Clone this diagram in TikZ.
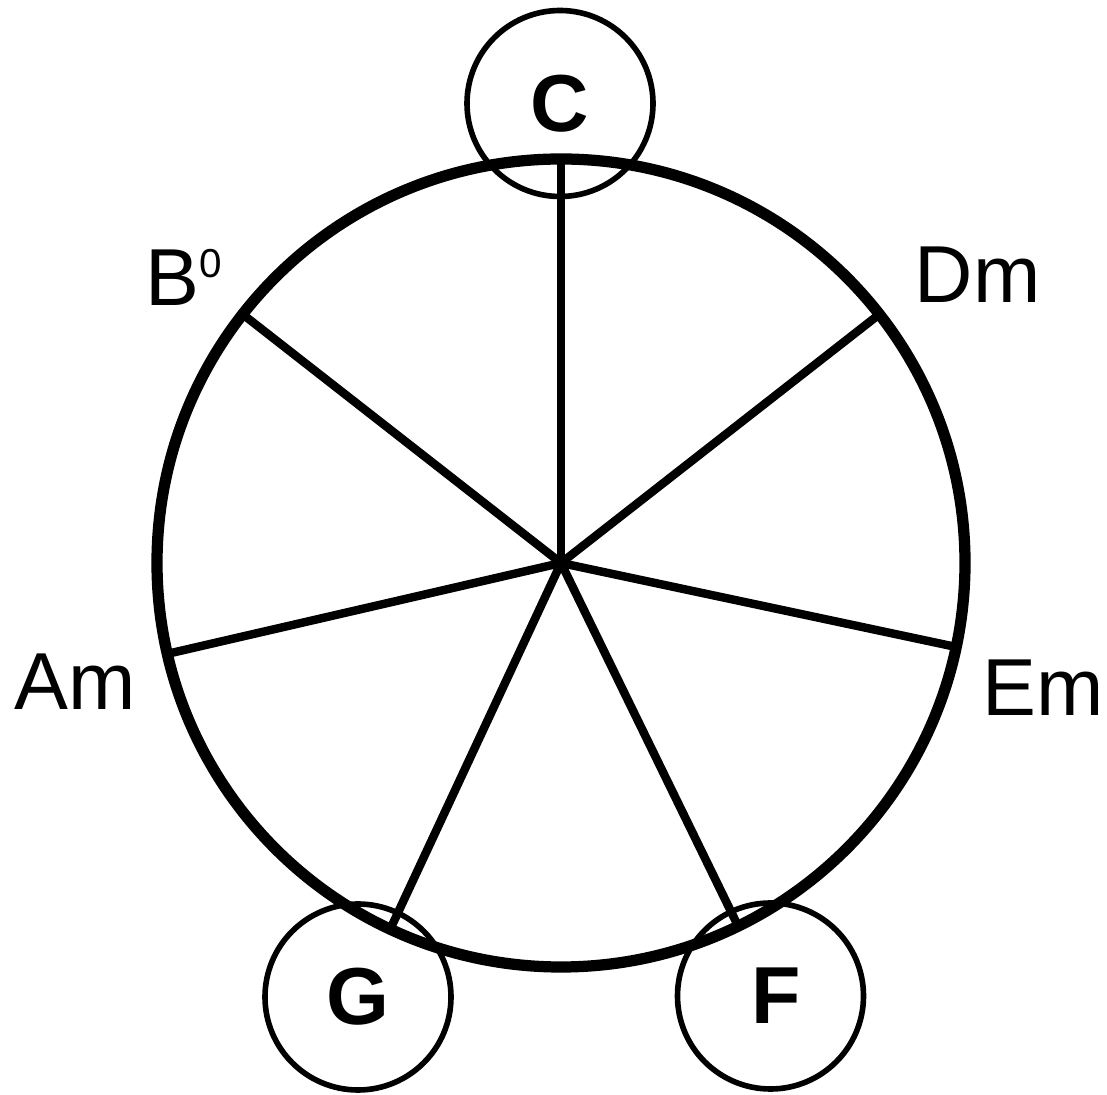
\documentclass[tikz,border=0pt]{standalone}
\usepackage{fontspec}
\setmainfont{Liberation Sans}
\usepackage{tikz}
\usetikzlibrary{calc}
\tikzset{
  wheelring/.style={circle, draw=black, line width=6.4pt, minimum size=16.16cm, inner sep=0pt, outer sep=0pt},
  spoke/.style={line width=4.8pt, draw=black},
  % --- chord labels ---
  majorring/.style={circle, draw=black, line width=3.2pt, minimum size=3.72cm, inner sep=0pt, font=\fontsize{46}{46}\selectfont\bfseries},
  chordlabel/.style={font=\fontsize{46}{46}\selectfont, inner sep=0pt},
}

\begin{document}
\begin{tikzpicture}[x=1cm,y=1cm]
  \useasboundingbox (0,0) rectangle (22.14,21.88);

  \node[wheelring] (wheel) at (11.22, 10.62) {};
  \coordinate (hub) at (wheel.center);

  \foreach \k in {0,...,6}
    \draw[spoke] (hub) -- (wheel.{90-\k*360/7});

  \node[majorring] (C) at (11.20, 19.81) {C};
  \node[majorring] (G) at (7.16, 1.94)   {\raisebox{-0.14cm}{G}};
  \node[majorring] (F) at (15.41, 1.96)  {\raisebox{-0.06cm}{\hspace{0.24cm}F}};

  \node[chordlabel] (Dm) at (19.55, 16.38) {Dm};
  \node[chordlabel] (Em) at (20.86, 8.12)  {Em};
  \node[chordlabel] (Am) at (1.50, 8.24)   {Am};
  \node[chordlabel] (Bdim) at (3.68, 16.33) {B\raisebox{16pt}{\fontsize{23}{23}\selectfont 0}};
\end{tikzpicture}
\end{document}
